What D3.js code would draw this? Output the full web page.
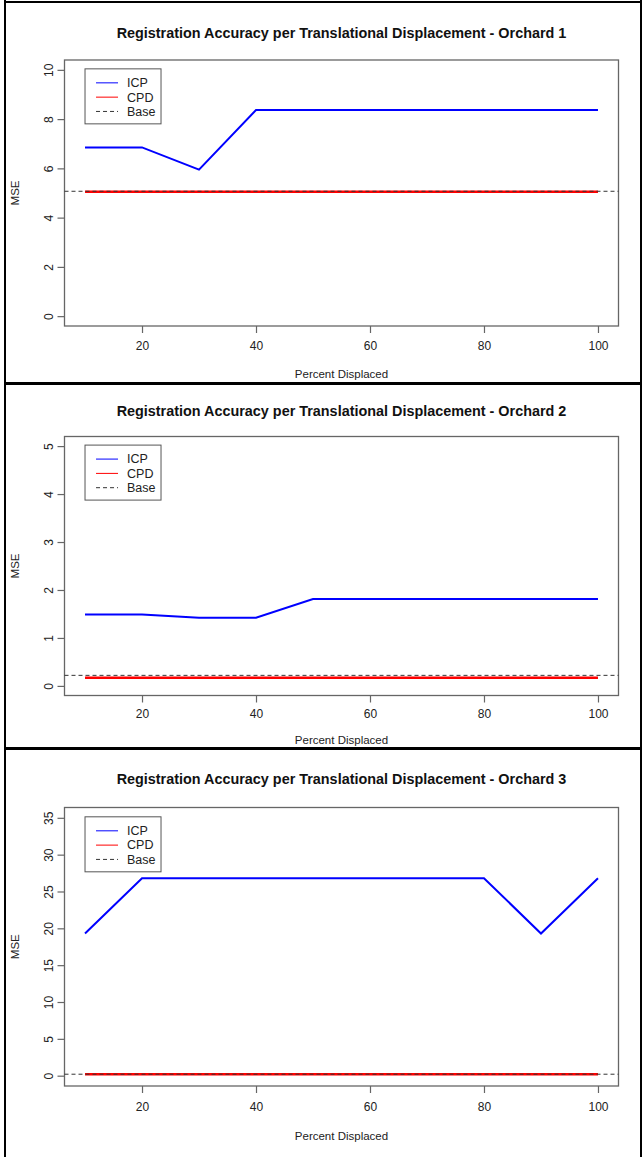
<!DOCTYPE html>
<html>
<head>
<meta charset="utf-8">
<script src="https://cdn.jsdelivr.net/npm/d3@7/dist/d3.min.js"></script>
<style>
  html, body { margin: 0; padding: 0; background: #fff; }
  svg { display: block; font-family: "Liberation Sans", Arial, sans-serif; }
</style>
</head>
<body>
<svg id="chart" width="642" height="1157"></svg>
<script>
// ---- data ----
const percentDisplaced = [10, 20, 30, 40, 50, 60, 70, 80, 90, 100];
const xTicks = [20, 40, 60, 80, 100];

const titles = [
  "Registration Accuracy per Translational Displacement - Orchard 1",
  "Registration Accuracy per Translational Displacement - Orchard 2",
  "Registration Accuracy per Translational Displacement - Orchard 3"
];

const icp1 = [6.85, 6.85, 5.95, 8.37, 8.37, 8.37, 8.37, 8.37, 8.37, 8.37];
const cpd1 = [5.05, 5.05, 5.05, 5.05, 5.05, 5.05, 5.05, 5.05, 5.05, 5.05];
const icp2 = [1.49, 1.49, 1.42, 1.42, 1.81, 1.81, 1.81, 1.81, 1.81, 1.81];
const cpd2 = [0.17, 0.17, 0.17, 0.17, 0.17, 0.17, 0.17, 0.17, 0.17, 0.17];
const icp3 = [19.3, 26.8, 26.8, 26.8, 26.8, 26.8, 26.8, 26.8, 19.3, 26.8];
const cpd3 = [0.2, 0.2, 0.2, 0.2, 0.2, 0.2, 0.2, 0.2, 0.2, 0.2];

const baseValues = [5.07, 0.22, 0.2];
const yMax = [10, 5, 35];
const yTicks1 = [0, 2, 4, 6, 8, 10];
const yTicks2 = [0, 1, 2, 3, 4, 5];
const yTicks3 = [0, 5, 10, 15, 20, 25, 30, 35];

const legendLabels = ["ICP", "CPD", "Base"];

// ---- layout ----
const svg = d3.select("#chart");
const plotLeft = 64.5, plotRight = 618.5;
const panels = [
  { title: titles[0], icp: icp1, cpd: cpd1, base: baseValues[0], ymax: yMax[0], ticks: yTicks1,
    top: 60, bottom: 326, titleY: 38, tickLabY: 353, xlabY: 378 },
  { title: titles[1], icp: icp2, cpd: cpd2, base: baseValues[1], ymax: yMax[1], ticks: yTicks2,
    top: 436.5, bottom: 695.5, titleY: 416, tickLabY: 721, xlabY: 744 },
  { title: titles[2], icp: icp3, cpd: cpd3, base: baseValues[2], ymax: yMax[2], ticks: yTicks3,
    top: 807.5, bottom: 1086, titleY: 784, tickLabY: 1114, xlabY: 1140 }
];

const axisCol = "#666";
const textCol = "#222";

// outer frame & separators
svg.append("line").attr("x1", 5).attr("x2", 5).attr("y1", 0).attr("y2", 1157)
  .attr("stroke", "#000").attr("stroke-width", 2);
svg.append("line").attr("x1", 4).attr("x2", 642).attr("y1", 2).attr("y2", 2)
  .attr("stroke", "#000").attr("stroke-width", 2);
svg.append("line").attr("x1", 641).attr("x2", 641).attr("y1", 0).attr("y2", 1157)
  .attr("stroke", "#000").attr("stroke-width", 2);
[383.5, 748.5].forEach(y => {
  svg.append("line").attr("x1", 4).attr("x2", 642).attr("y1", y).attr("y2", y)
    .attr("stroke", "#000").attr("stroke-width", 3);
});

const xDom = [10 - 0.04 * 90, 100 + 0.04 * 90];

panels.forEach(p => {
  const g = svg.append("g");
  const x = d3.scaleLinear().domain(xDom).range([plotLeft, plotRight]);
  const pad = 0.04 * p.ymax;
  const y = d3.scaleLinear().domain([-pad, p.ymax + pad]).range([p.bottom, p.top]);

  // title
  g.append("text").attr("x", (plotLeft + plotRight) / 2).attr("y", p.titleY)
    .attr("text-anchor", "middle").attr("font-size", 14.4).attr("font-weight", "bold")
    .attr("fill", "#111").text(p.title);

  // box
  g.append("rect").attr("x", plotLeft).attr("y", p.top)
    .attr("width", plotRight - plotLeft).attr("height", p.bottom - p.top)
    .attr("fill", "none").attr("stroke", axisCol).attr("stroke-width", 1.3);

  // x axis
  const xAxis = d3.axisBottom(x).tickValues(xTicks).tickSize(7).tickFormat(d3.format("d"));
  const xa = g.append("g").attr("transform", `translate(0,${p.bottom})`).call(xAxis);
  xa.select(".domain").remove();
  xa.selectAll(".tick line").attr("stroke", axisCol).attr("stroke-width", 1.2);
  xa.selectAll(".tick text").attr("y", p.tickLabY - p.bottom - 12).attr("dy", "0.71em")
    .attr("font-size", 12).attr("fill", textCol).attr("font-family", "Liberation Sans, Arial, sans-serif");

  // y axis
  const yAxis = d3.axisLeft(y).tickValues(p.ticks).tickSize(7).tickFormat(d3.format("d"));
  const ya = g.append("g").attr("transform", `translate(${plotLeft},0)`).call(yAxis);
  ya.select(".domain").remove();
  ya.selectAll(".tick line").attr("stroke", axisCol).attr("stroke-width", 1.2);
  ya.selectAll(".tick text")
    .attr("x", null).attr("dy", null)
    .attr("transform", "translate(-16,0) rotate(-90)")
    .attr("text-anchor", "middle").attr("y", 0).attr("dy", "0.35em")
    .attr("font-size", 12).attr("fill", textCol).attr("font-family", "Liberation Sans, Arial, sans-serif");

  // axis titles
  g.append("text").attr("x", (plotLeft + plotRight) / 2).attr("y", p.xlabY)
    .attr("text-anchor", "middle").attr("font-size", 11.5).attr("fill", textCol).text("Percent Displaced");
  g.append("text")
    .attr("transform", `translate(19,${(p.top + p.bottom) / 2}) rotate(-90)`)
    .attr("text-anchor", "middle").attr("font-size", 11.5).attr("fill", textCol).text("MSE");

  const line = d3.line().x((d, i) => x(percentDisplaced[i])).y(d => y(d));

  // CPD
  g.append("path").datum(p.cpd).attr("d", line).attr("fill", "none")
    .attr("stroke", "#ff0000").attr("stroke-width", 2.5);
  // Base (abline)
  g.append("line").attr("x1", plotLeft).attr("x2", plotRight)
    .attr("y1", y(p.base)).attr("y2", y(p.base))
    .attr("stroke", "#333").attr("stroke-width", 1).attr("stroke-dasharray", "4,3");
  // ICP
  g.append("path").datum(p.icp).attr("d", line).attr("fill", "none")
    .attr("stroke", "#0000ff").attr("stroke-width", 2);

  // legend at data (10, ymax)
  const lx = x(10), ly = y(p.ymax);
  const lg = g.append("g").attr("transform", `translate(${lx},${ly - 1})`);
  lg.append("rect").attr("x", 0).attr("y", 0).attr("width", 76).attr("height", 55)
    .attr("fill", "#fff").attr("stroke", "#555").attr("stroke-width", 1);
  const colors = ["#0000ff", "#ff0000", "#333"];
  legendLabels.forEach((lab, i) => {
    const ry = 14 + i * 14.3;
    lg.append("line").attr("x1", 11).attr("x2", 33).attr("y1", ry).attr("y2", ry)
      .attr("stroke", colors[i]).attr("stroke-width", 1)
      .attr("stroke-dasharray", i === 2 ? "4,3" : null);
    lg.append("text").attr("x", 42).attr("y", ry).attr("dy", "0.35em")
      .attr("font-size", 12.5).attr("fill", textCol).text(lab);
  });
});
</script>
</body>
</html>
